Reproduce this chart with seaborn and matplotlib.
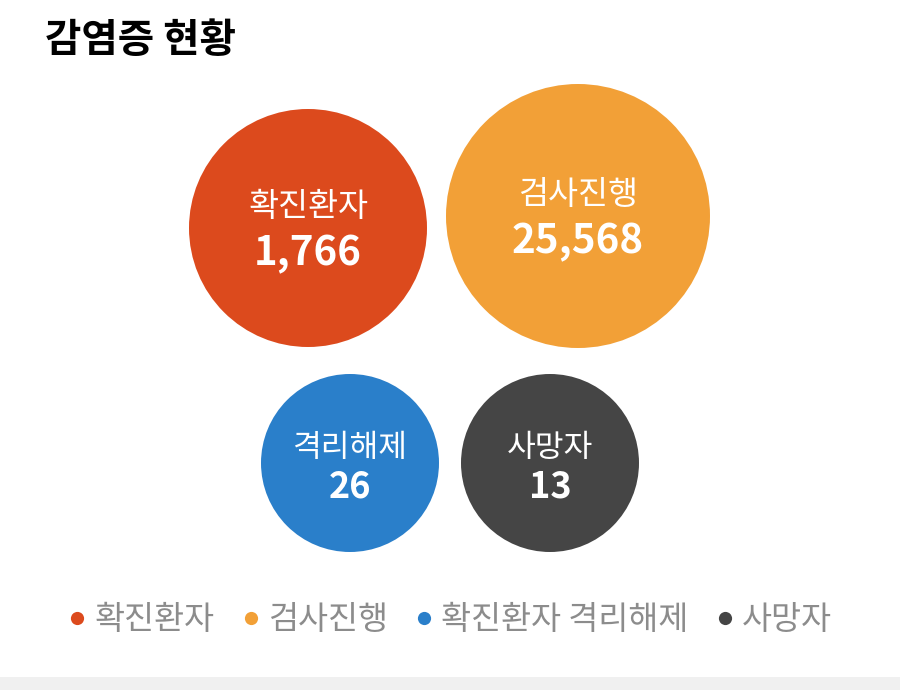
import pandas as pd
import numpy as np
import matplotlib.pyplot as plt
import seaborn as sns
from matplotlib.lines import Line2D

# 데이터
labels = ['확진환자', '검사진행', '격리해제', '사망자']
values = [1766, 25568, 26, 13]
legend_labels = ['확진환자', '검사진행', '확진환자 격리해제', '사망자']
colors = ['#DC4A1D', '#F2A037', '#2A7FCA', '#454545']

# 버블 배치 (픽셀 좌표 기준)
pos_x = [308, 578, 350, 550]
pos_y = [228, 216, 463, 463]
radius = [119, 132, 89, 89]

df = pd.DataFrame({'label': labels, 'value': values, 'x': pos_x, 'y': pos_y, 'r': radius})

sns.set_theme(style='white')
plt.rcParams['font.family'] = ['Noto Sans CJK KR', 'DejaVu Sans']

fig = plt.figure(figsize=(9, 6.9), dpi=100)
ax = fig.add_axes([0, 0, 1, 1])
ax.set_xlim(0, 900)
ax.set_ylim(690, 0)
ax.axis('off')

# 원 크기: 반지름(px) -> 포인트^2
sizes = (2 * df['r'] * 72 / 100) ** 2
sns.scatterplot(data=df, x='x', y='y', hue='label', palette=dict(zip(labels, colors)),
                s=sizes, linewidth=0, legend=False, ax=ax)

# 원 안 텍스트
big = df['r'] > 100
for i, row in df.iterrows():
    if big[i]:
        ax.text(row['x'], row['y'] - 21, row['label'], color='white', fontsize=23.5,
                ha='center', va='center')
        ax.text(row['x'], row['y'] + 26, f"{row['value']:,}", color='white', fontsize=29,
                fontweight='bold', ha='center', va='center')
    else:
        ax.text(row['x'], row['y'] - 15, row['label'], color='white', fontsize=22.5,
                ha='center', va='center')
        ax.text(row['x'], row['y'] + 24, f"{row['value']:,}", color='white', fontsize=26,
                fontweight='bold', ha='center', va='center')

# 제목
ax.text(45, 40, '감염증 현황', fontsize=28.5, fontweight='bold', color='black',
        ha='left', va='center')

# 범례
handles = [Line2D([0], [0], marker='o', linestyle='', markersize=9.5,
                  markerfacecolor=c, markeredgewidth=0) for c in colors]
leg = ax.legend(handles, legend_labels, loc='center', bbox_to_anchor=(448 / 900, 1 - 620 / 690),
                ncol=4, frameon=False, fontsize=23.5, handletextpad=0.12, columnspacing=0.72,
                handlelength=0.8)
for t in leg.get_texts():
    t.set_color('#8C8C8C')

# 하단 회색 띠
ax.axhspan(677, 690, color='#F0F0F0', lw=0)

fig.savefig('out.png', dpi=100)
